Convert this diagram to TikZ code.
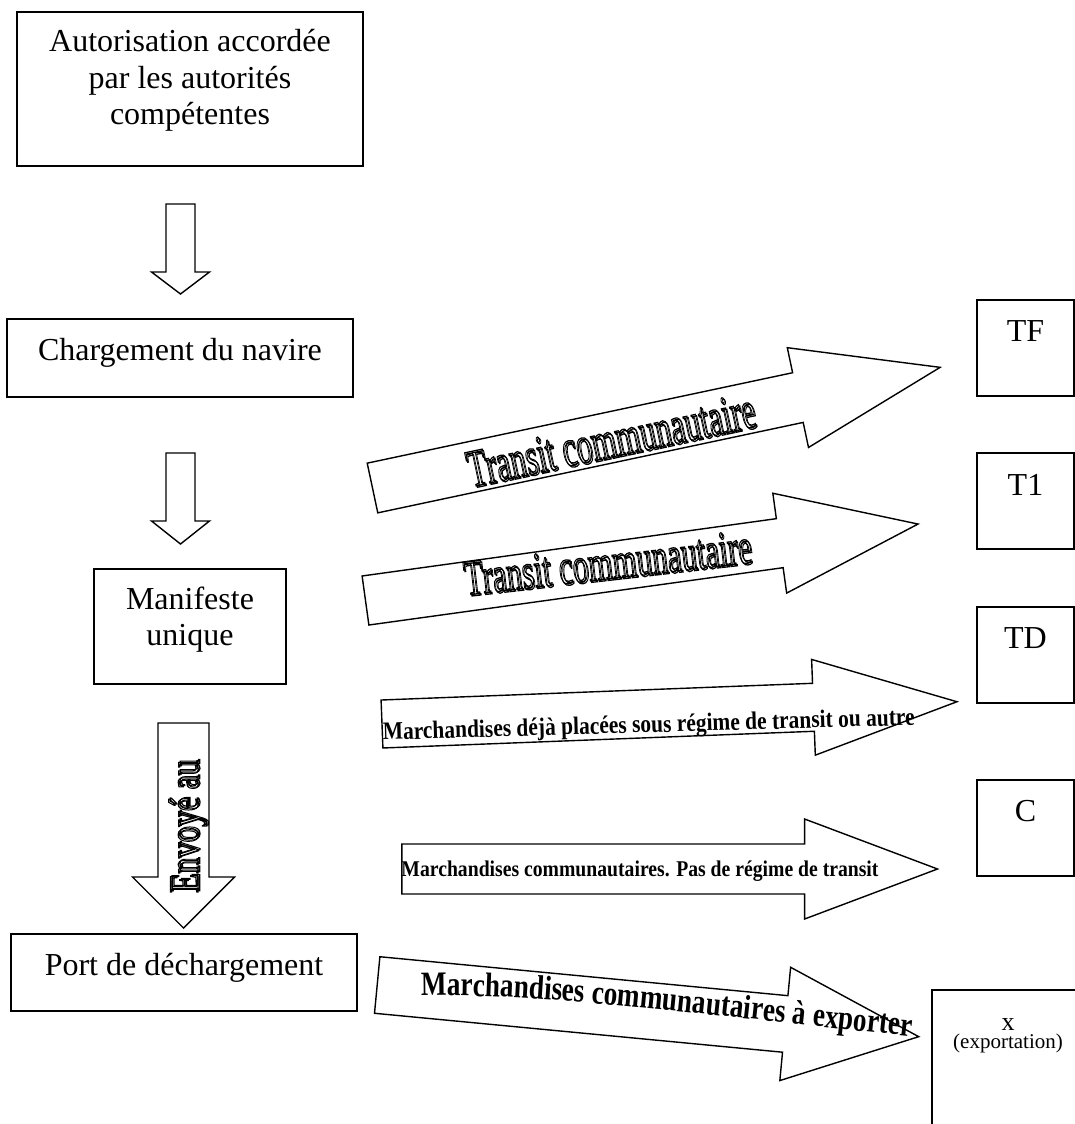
\documentclass[tikz,border=0pt]{standalone}
\usepackage{fontspec}
\setmainfont{Liberation Serif}
\newfontfamily\wordart[FakeStretch=0.80]{Liberation Serif}
\usepackage{graphicx}
\usetikzlibrary{decorations.text}

% glyphs stroked only (PDF text render mode 1)
\newcommand\strokeonly[1]{%
  \special{pdf:literal direct 1 Tr 1.3 w}#1\special{pdf:literal direct 0 Tr}}
% hollow lettering with a small offset shadow
\newcommand\hollow[1]{%
  \rlap{\raisebox{-1.6pt}{\hspace{1.6pt}\strokeonly{#1}}}\strokeonly{#1}}

% block arrow: #1 tail centre, #2 angle, #3 length, #4 head length,
% #5 shaft half-width, #6 head half-width
\newcommand\blockarrow[6]{%
  \begin{scope}[shift={#1}, rotate=#2]
    \draw[arrowbody] (0,-#5) -- ({#3-#4},-#5) -- ({#3-#4},-#6) -- (#3,0)
      -- ({#3-#4},#6) -- ({#3-#4},#5) -- (0,#5) -- cycle;
  \end{scope}}

\tikzset{
  panel/.style={draw, line width=1.5pt, inner sep=0pt},
  caption/.style={inner sep=0pt, anchor=base, font=\fontsize{32}{36.5}\selectfont},
  arrowbody/.style={draw, fill=white, line width=1.4pt, line join=miter},
  flowtext/.style={inner sep=0pt, anchor=base},
}

\begin{document}
\begin{tikzpicture}[x=1pt, y=1pt]
\path[use as bounding box] (0,0) rectangle (1075,-1124);
\clip (0,0) rectangle (1075,-1124);
\fill[white] (0,0) rectangle (1075,-1124);

% left column of boxes
\node[panel, minimum width=346pt, minimum height=154pt] (auth) at (190,-89) {};
\node[caption] (authtxt) at (190,-52)
  {\begin{tabular}[t]{@{}c@{}}Autorisation accordée\\par les autorités\\compétentes\end{tabular}};

\node[panel, minimum width=346pt, minimum height=78pt] (charg) at (180,-358) {};
\node[caption] (chargtxt) at (180,-360) {Chargement du navire};

\node[panel, minimum width=192pt, minimum height=115pt] (manif) at (190,-626.5) {};
\node[caption] (maniftxt) at (190,-609)
  {\begin{tabular}[t]{@{}c@{}}Manifeste\\unique\end{tabular}};

\node[panel, minimum width=346pt, minimum height=77pt] (port) at (184,-972.5) {};
\node[caption] (porttxt) at (184,-975) {Port de déchargement};

% right column of boxes
\node[panel, minimum width=97pt, minimum height=96pt] (tf) at (1025.5,-348) {};
\node[caption] (tftxt) at (1025.5,-341) {TF};
\node[panel, minimum width=97pt, minimum height=96pt] (tone) at (1025.5,-501) {};
\node[caption] (tonetxt) at (1025.5,-495) {T1};
\node[panel, minimum width=97pt, minimum height=96pt] (td) at (1025.5,-655) {};
\node[caption] (tdtxt) at (1025.5,-648) {TD};
\node[panel, minimum width=97pt, minimum height=96pt] (cbox) at (1025.5,-828) {};
\node[caption] (ctxt) at (1025.5,-821) {C};
\node[panel, minimum width=152pt, minimum height=150pt] (xbox) at (1008,-1065) {};
\node[caption, font=\fontsize{26}{30}\selectfont] (xtxt) at (1008,-1030) {x};
\node[caption, font=\fontsize{21}{25}\selectfont] (xsub) at (1008,-1048) {(exportation)};

% downward block arrows
\blockarrow{(180.5,-204)}{-90}{90}{22}{14.5}{29}
\blockarrow{(180.5,-453)}{-90}{91}{23}{14.5}{29}
\blockarrow{(183.5,-723)}{-90}{205}{51}{25.5}{51}
\node[flowtext, rotate=90] (envoye) at (198,-826.5)
  {\resizebox{133pt}{\height}{\fontsize{42}{50}\selectfont\hollow{Envoyé au}}};

% block arrows towards the transit boxes
\blockarrow{(372.5,-488)}{12.0}{580.3}{145.4}{25.4}{51}
\blockarrow{(365.5,-600.5)}{7.88}{557.8}{139.6}{24.75}{50.4}
\blockarrow{(382,-724)}{2.22}{575.4}{143.6}{24}{47.9}
\blockarrow{(401.8,-869)}{0}{535.7}{132.9}{25}{50}
\blockarrow{(377.2,-985)}{-5.45}{544}{134.1}{28.4}{56.9}

\node[flowtext, rotate=12.0] (tfa) at (614.5,-456.5)
  {\resizebox{293pt}{\height}{\fontsize{53}{60}\selectfont\hollow{Transit communautaire}}};
\node[flowtext, rotate=6.5] (tonea) at (609.5,-578.7)
  {\resizebox{289pt}{\height}{\fontsize{50}{60}\selectfont\hollow{Transit communautaire}}};
\node[flowtext, rotate=1.6] (tda) at (649,-732.5)
  {\resizebox{532pt}{\height}{\fontsize{25}{30}\selectfont\bfseries Marchandises déjà placées sous régime de transit ou autre}};
\node[flowtext] (ca) at (640,-876.7)
  {\resizebox{477pt}{\height}{\fontsize{22.5}{27}\selectfont\bfseries Marchandises communautaires. Pas de régime de transit}};
\path[decorate, decoration={text along path, text align=center,
    text={|\wordart\bfseries\fontsize{34}{40}\selectfont|Marchandises communautaires à exporter}}]
  (397,-997) .. controls (520,-990) and (680,-1012) .. (935,-1039);
\end{tikzpicture}
\end{document}
